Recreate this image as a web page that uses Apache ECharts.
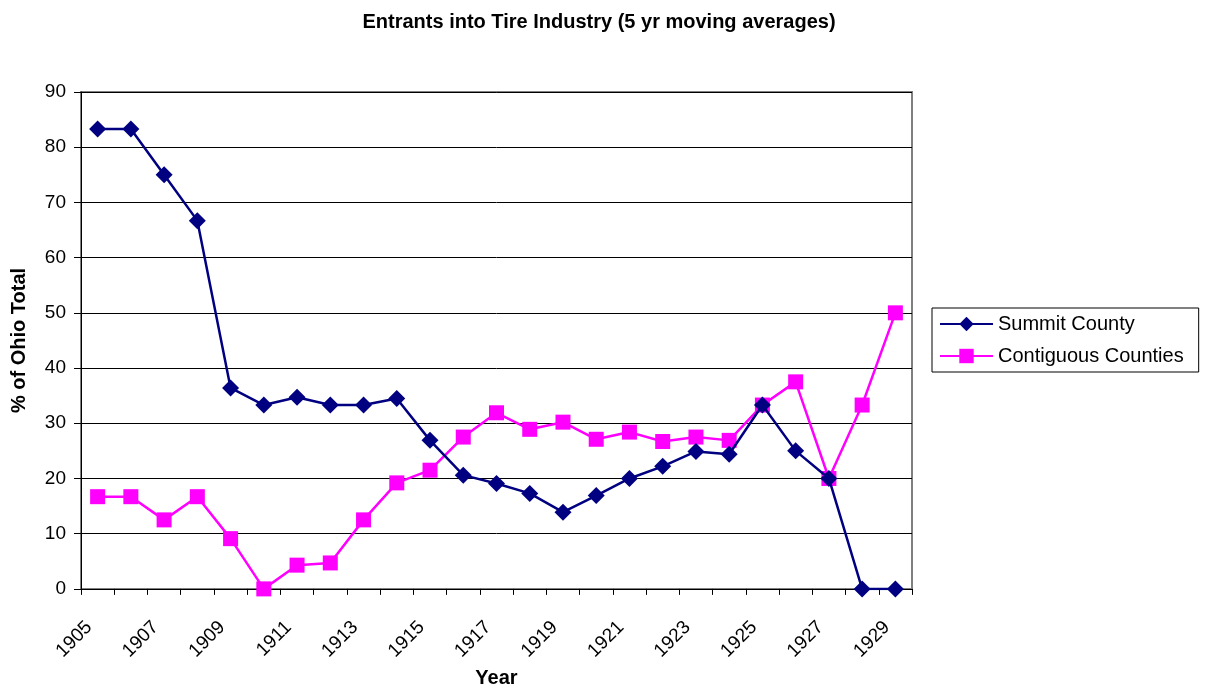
<!DOCTYPE html>
<html><head><meta charset="utf-8">
<script src="https://cdn.jsdelivr.net/npm/echarts@6/dist/echarts.min.js"></script>
<style>html,body{margin:0;padding:0;background:#fff}#c{width:1206px;height:693px}</style>
</head><body><div id="c"></div>
<script>
const years = ['1905','1906','1907','1908','1909','1910','1911','1912','1913','1914','1915','1916','1917','1918','1919','1920','1921','1922','1923','1924','1925','1926','1927','1928','1929'];
const summitCounty = [83.3,83.3,75.0,66.7,36.4,33.3,34.7,33.3,33.3,34.5,26.9,20.6,19.1,17.3,13.9,16.9,20.0,22.2,24.9,24.4,33.3,25.0,20.0,0,0];
const contiguousCounties = [16.7,16.7,12.5,16.7,9.1,0,4.3,4.7,12.5,19.2,21.5,27.5,31.9,28.9,30.2,27.1,28.4,26.7,27.5,26.9,33.3,37.5,20.0,33.3,50.0];
const yTicks = {min:0, max:90, interval:10};

const font = 'Liberation Sans, Arial, sans-serif';
const chart = echarts.init(document.getElementById('c'));
chart.setOption({
  animation:false,
  backgroundColor:'#fff',
  title:{text:'Entrants into Tire Industry (5 yr moving averages)', left:594, top:7, textAlign:'center',
    textStyle:{fontFamily:font, fontSize:20, fontWeight:'bold', color:'#000'}},
  grid:{left:81, right:294, top:92, bottom:101, show:true, borderColor:'#808080', borderWidth:2, backgroundColor:'#fff'},
  legend:{orient:'vertical', left:932, top:308, padding:[6,15,6,7], itemGap:12,
    borderColor:'#000', borderWidth:1, itemWidth:53, itemHeight:18,
    textStyle:{fontFamily:font, fontSize:20, color:'#000'},
    data:['Summit County','Contiguous Counties']},
  xAxis:{type:'category', data:years, boundaryGap:true,
    name:'Year', nameLocation:'middle', nameGap:78,
    nameTextStyle:{fontFamily:font, fontSize:20, fontWeight:'bold', color:'#000'},
    axisLine:{lineStyle:{color:'#000', width:1}},
    axisTick:{show:true, interval:0, length:6, lineStyle:{color:'#000'}},
    axisLabel:{interval:1, rotate:45, fontFamily:font, fontSize:19, color:'#000', margin:27, padding:[0,12,10,0]}},
  yAxis:{type:'value', min:yTicks.min, max:yTicks.max, interval:yTicks.interval,
    name:'% of Ohio Total', nameLocation:'middle', nameGap:52,
    nameTextStyle:{fontFamily:font, fontSize:20, fontWeight:'bold', color:'#000'},
    axisLine:{show:true, lineStyle:{color:'#000', width:1}},
    axisTick:{show:true, length:7, lineStyle:{color:'#000'}},
    splitLine:{lineStyle:{color:'#000', width:1}},
    axisLabel:{fontFamily:font, fontSize:19, color:'#000', margin:15}},
  series:[
    {name:'Summit County', type:'line', data:summitCounty, symbol:'diamond', symbolSize:17,
     lineStyle:{color:'#000080', width:2.5}, itemStyle:{color:'#000080'}, z:3},
    {name:'Contiguous Counties', type:'line', data:contiguousCounties, symbol:'rect', symbolSize:15,
     lineStyle:{color:'#ff00ff', width:2.5}, itemStyle:{color:'#ff00ff'}, z:2}
  ]
});
</script></body></html>
